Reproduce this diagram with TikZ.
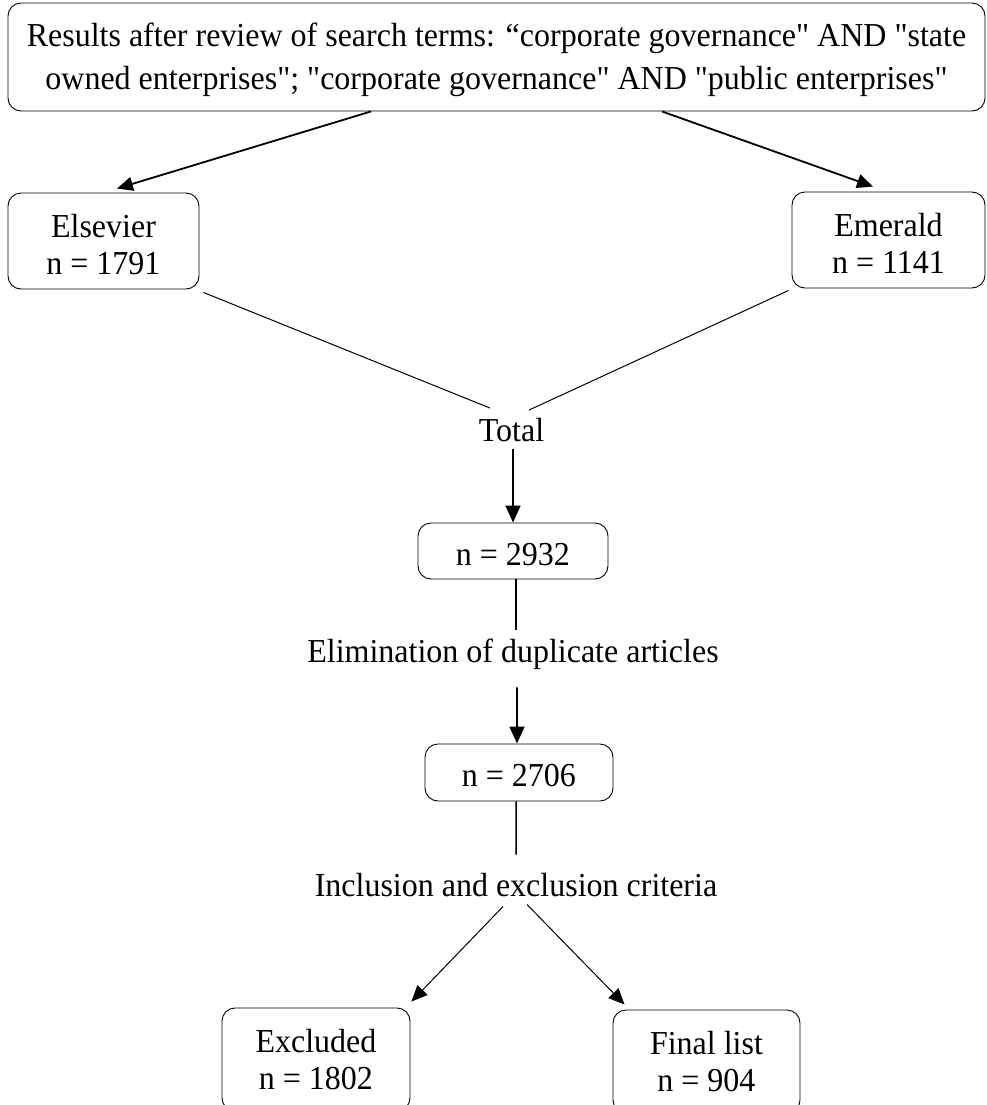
\documentclass[tikz,border=0pt]{standalone}
\usepackage{fontspec}
\setmainfont{Liberation Serif}[Ligatures=TeXOff, FakeStretch=0.955]
\usetikzlibrary{arrows.meta}
\newcommand{\topstrut}[1]{\rule{0pt}{#1}}
\begin{document}
\begin{tikzpicture}[x=1bp,y=-1bp,
  every node/.style={font=\fontsize{33.5bp}{37bp}\selectfont},
  box/.style={draw, rounded corners=13bp, line width=0.9bp, align=center, inner sep=0pt},
  lbl/.style={inner sep=0pt, anchor=base},
  bigarrow/.style={line width=1.8bp, -{Triangle[length=16bp,width=14bp]}},
  varrow/.style={line width=1.8bp, -{Triangle[length=17bp,width=15bp]}},
  sarrow/.style={line width=1bp, -{Triangle[length=16bp,width=14bp]}},
  thinline/.style={line width=1bp},
  vline/.style={line width=1.5bp}]
\useasboundingbox (0,0) rectangle (987,1105);
\node[box, minimum width=977bp, minimum height=108bp, font=\fontsize{33.5bp}{43bp}\selectfont] (top) at (496.5,57)
  {\topstrut{30bp}Results after review of search terms: “corporate governance" AND "state\\owned enterprises"; "corporate governance" AND "public enterprises"};
\node[box, minimum width=191bp, minimum height=96bp] (els) at (103.5,241) {\topstrut{30bp}Elsevier\\n = 1791};
\node[box, minimum width=193bp, minimum height=96bp] (em) at (888.5,240) {\topstrut{30bp}Emerald\\n = 1141};
\node[lbl] (total) at (511.5,441) {Total};
\node[box, minimum width=190bp, minimum height=56bp] (n1) at (513,551) {\topstrut{29bp}n = 2932};
\node[lbl] (elim) at (513,662) {Elimination of duplicate articles};
\node[box, minimum width=188bp, minimum height=57bp] (n2) at (519,772.5) {\topstrut{29bp}n = 2706};
\node[lbl] (incl) at (516,896) {Inclusion and exclusion criteria};
\node[box, minimum width=188bp, minimum height=103bp] (excl) at (316,1059.5) {\topstrut{24bp}Excluded\\n = 1802};
\node[box, minimum width=187bp, minimum height=103bp] (final) at (706.5,1061.5) {\topstrut{24bp}Final list\\n = 904};

\draw[bigarrow] ([xshift=-125.5bp]top.south) -- ([xshift=13.5bp,yshift=4bp]els.north);
\draw[bigarrow] ([xshift=165.5bp]top.south) -- ([xshift=-15.5bp,yshift=5bp]em.north);
\draw[thinline] ([xshift=4bp,yshift=-3bp]els.south east) -- ([xshift=-21.5bp,yshift=9.5bp]total.north);
\draw[thinline] ([xshift=-3bp,yshift=-2bp]em.south west) -- ([xshift=17.5bp,yshift=7.5bp]total.north);
\draw[varrow] ([xshift=1.5bp,yshift=-7bp]total.south) -- (n1.north);
\draw[vline] ([xshift=3bp]n1.south) -- ([xshift=3bp,yshift=8.5bp]elim.north);
\draw[varrow] ([xshift=4bp,yshift=-18bp]elim.south) -- ([xshift=-2bp]n2.north);
\draw[vline] ([xshift=-3bp]n2.south) -- ([yshift=18bp]incl.north);
\draw[sarrow] ([xshift=-13bp,yshift=-10bp]incl.south) -- ([xshift=1bp,yshift=6bp]excl.north east);
\draw[sarrow] ([xshift=11bp,yshift=-8bp]incl.south) -- ([xshift=12bp,yshift=5bp]final.north west);
\end{tikzpicture}
\end{document}
